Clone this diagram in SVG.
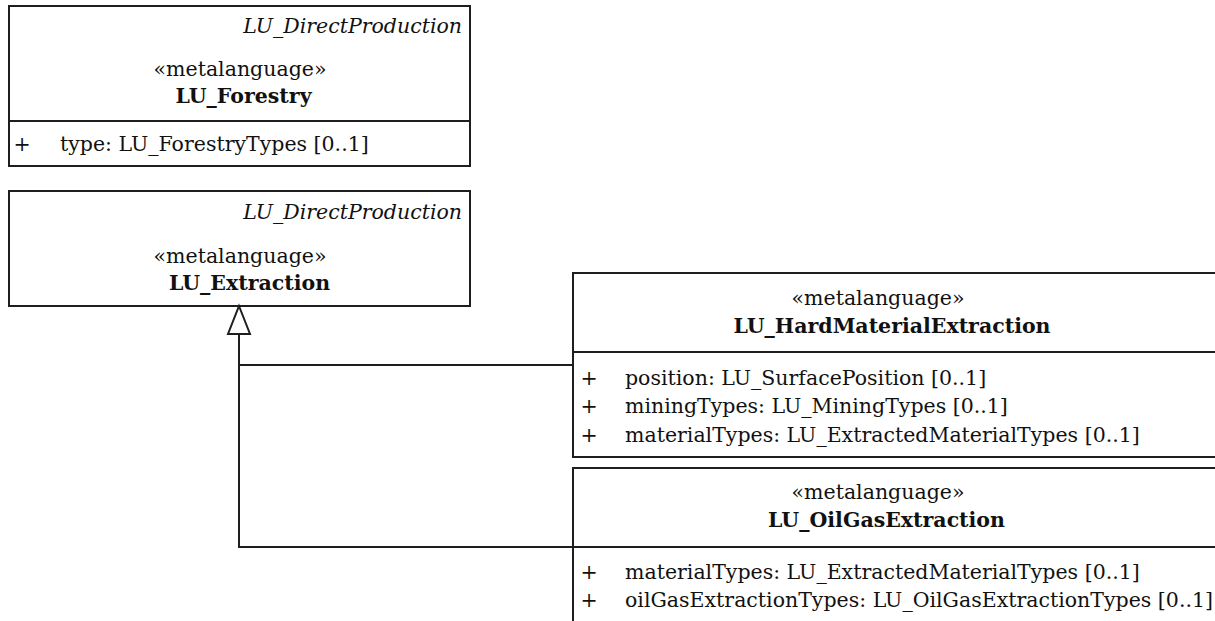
<svg xmlns="http://www.w3.org/2000/svg" width="1215" height="621" viewBox="0 0 1215 621">
  <style>
    .box { fill: #ffffff; stroke: #1e1e1e; stroke-width: 2; }
    .sep { stroke: #1e1e1e; stroke-width: 2; }
    .edge { fill: none; stroke: #1e1e1e; stroke-width: 2; }
    .head { fill: #ffffff; stroke: #1e1e1e; stroke-width: 2; stroke-linejoin: miter; }
    text { font-family: "DejaVu Serif", "Liberation Serif", serif; font-size: 20.5px; fill: #111111; }
    .abs { font-style: italic; text-anchor: end; }
    .st { text-anchor: middle; }
    .name { font-weight: bold; text-anchor: middle; }
    .vis { text-anchor: middle; }
  </style>

  <rect width="1215" height="621" fill="#ffffff"/>

  <!-- LU_Forestry -->
  <g id="lu-forestry">
    <rect class="box" x="9" y="6" width="461" height="160"/>
    <line class="sep" x1="9" y1="121" x2="470" y2="121"/>
    <text class="abs" x="462" y="33">LU_DirectProduction</text>
    <text class="st" x="240" y="76">«metalanguage»</text>
    <text class="name" x="243.5" y="103">LU_Forestry</text>
    <text class="vis" x="22" y="151">+</text>
    <text x="60" y="151">type: LU_ForestryTypes [0..1]</text>
  </g>

  <!-- LU_Extraction -->
  <g id="lu-extraction">
    <rect class="box" x="9" y="191" width="461" height="115"/>
    <text class="abs" x="462" y="218.5">LU_DirectProduction</text>
    <text class="st" x="240" y="263">«metalanguage»</text>
    <text class="name" x="249.5" y="290">LU_Extraction</text>
  </g>

  <!-- LU_HardMaterialExtraction -->
  <g id="lu-hardmaterialextraction">
    <rect class="box" x="573" y="273" width="660" height="184"/>
    <line class="sep" x1="573" y1="352" x2="1233" y2="352"/>
    <text class="st" x="878" y="305">«metalanguage»</text>
    <text class="name" x="892" y="333">LU_HardMaterialExtraction</text>
    <text class="vis" x="589" y="384.5">+</text>
    <text x="625" y="384.5">position: LU_SurfacePosition [0..1]</text>
    <text class="vis" x="589" y="413">+</text>
    <text x="625" y="413">miningTypes: LU_MiningTypes [0..1]</text>
    <text class="vis" x="589" y="441.5">+</text>
    <text x="625" y="441.5">materialTypes: LU_ExtractedMaterialTypes [0..1]</text>
  </g>

  <!-- LU_OilGasExtraction -->
  <g id="lu-oilgasextraction">
    <rect class="box" x="573" y="468" width="660" height="170"/>
    <line class="sep" x1="573" y1="547" x2="1233" y2="547"/>
    <text class="st" x="878" y="499">«metalanguage»</text>
    <text class="name" x="886.5" y="527">LU_OilGasExtraction</text>
    <text class="vis" x="589" y="579">+</text>
    <text x="625" y="579">materialTypes: LU_ExtractedMaterialTypes [0..1]</text>
    <text class="vis" x="589" y="607">+</text>
    <text x="625" y="607">oilGasExtractionTypes: LU_OilGasExtractionTypes [0..1]</text>
  </g>

  <!-- generalisations into LU_Extraction -->
  <g id="connectors">
    <polyline class="edge" points="573,365 239,365 239,334"/>
    <polyline class="edge" points="573,547 239,547 239,365"/>
    <polygon class="head" points="239,306 250,334 228,334"/>
  </g>
</svg>
